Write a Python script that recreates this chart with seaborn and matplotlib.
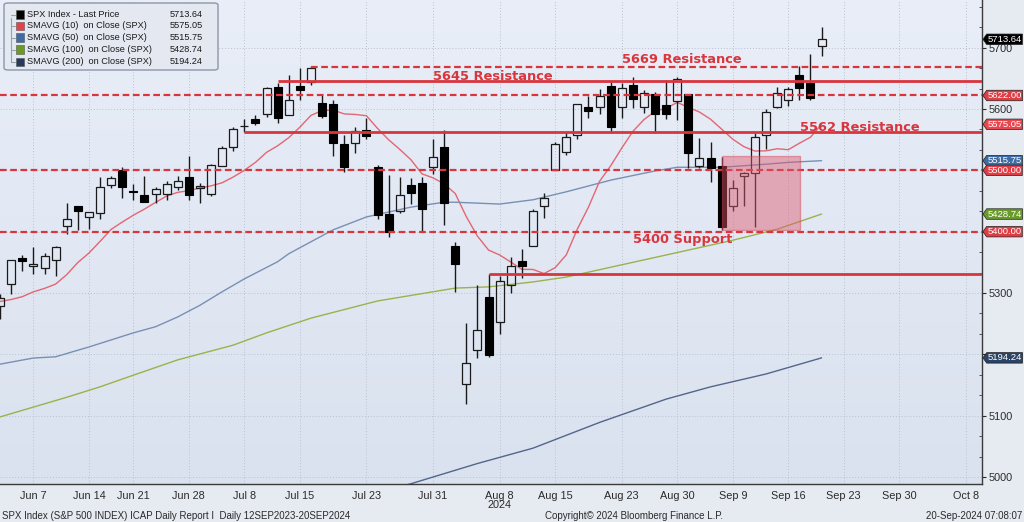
import numpy as np
import pandas as pd
import matplotlib
matplotlib.use("Agg")
import matplotlib.pyplot as plt
import matplotlib.transforms as mtransforms
from matplotlib.colors import LinearSegmentedColormap
from matplotlib.patches import Rectangle, FancyBboxPatch
from matplotlib.path import Path
from matplotlib.ticker import FixedLocator, MultipleLocator
import seaborn as sns

# SPX daily candles
dates = ["2024-06-03", "2024-06-04", "2024-06-05", "2024-06-06", "2024-06-07",
         "2024-06-10", "2024-06-11", "2024-06-12", "2024-06-13", "2024-06-14",
         "2024-06-17", "2024-06-18", "2024-06-20", "2024-06-21", "2024-06-24",
         "2024-06-25", "2024-06-26", "2024-06-27", "2024-06-28", "2024-07-01",
         "2024-07-02", "2024-07-03", "2024-07-05", "2024-07-08", "2024-07-09",
         "2024-07-10", "2024-07-11", "2024-07-12", "2024-07-15", "2024-07-16",
         "2024-07-17", "2024-07-18", "2024-07-19", "2024-07-22", "2024-07-23",
         "2024-07-24", "2024-07-25", "2024-07-26", "2024-07-29", "2024-07-30",
         "2024-07-31", "2024-08-01", "2024-08-02", "2024-08-05", "2024-08-06",
         "2024-08-07", "2024-08-08", "2024-08-09", "2024-08-12", "2024-08-13",
         "2024-08-14", "2024-08-15", "2024-08-16", "2024-08-19", "2024-08-20",
         "2024-08-21", "2024-08-22", "2024-08-23", "2024-08-26", "2024-08-27",
         "2024-08-28", "2024-08-29", "2024-08-30", "2024-09-03", "2024-09-04",
         "2024-09-05", "2024-09-06", "2024-09-09", "2024-09-10", "2024-09-11",
         "2024-09-12", "2024-09-13", "2024-09-16", "2024-09-17", "2024-09-18",
         "2024-09-19"]
opens = [5297.15, 5278.24, 5314.48, 5357.80, 5343.81, 5341.22, 5353.00, 5409.13, 5441.93, 5424.08,
         5431.11, 5476.15, 5499.99, 5466.77, 5459.58, 5460.73, 5460.71, 5473.59, 5488.48, 5471.08,
         5461.84, 5507.44, 5537.91, 5572.75, 5584.24, 5591.26, 5635.21, 5590.76, 5638.16, 5644.09,
         5610.07, 5608.56, 5543.37, 5544.75, 5565.30, 5505.84, 5428.70, 5433.67, 5476.55, 5478.73,
         5505.59, 5537.84, 5376.63, 5151.14, 5206.42, 5293.13, 5252.57, 5312.70, 5351.88, 5376.98,
         5442.37, 5501.13, 5530.50, 5557.23, 5602.88, 5603.09, 5637.77, 5602.89, 5639.66, 5602.89,
         5624.51, 5607.30, 5612.74, 5623.89, 5506.68, 5520.08, 5507.33, 5442.07, 5490.51, 5496.42,
         5557.48, 5603.34, 5615.21, 5655.51, 5641.68, 5702.63]
highs = [5302.11, 5298.80, 5354.16, 5362.35, 5375.08, 5365.79, 5375.95, 5447.25, 5441.93, 5432.39,
         5488.50, 5490.38, 5505.53, 5478.31, 5490.66, 5472.88, 5483.14, 5490.81, 5523.64, 5479.55,
         5509.69, 5539.27, 5570.33, 5583.11, 5590.75, 5635.39, 5642.45, 5655.56, 5666.94, 5669.67,
         5622.49, 5614.05, 5557.50, 5570.36, 5585.34, 5508.04, 5491.59, 5488.32, 5487.74, 5489.46,
         5551.51, 5566.16, 5383.89, 5250.89, 5312.34, 5330.64, 5328.03, 5358.73, 5371.20, 5436.50,
         5463.22, 5546.23, 5561.98, 5608.30, 5620.51, 5632.68, 5643.22, 5641.82, 5651.62, 5631.18,
         5627.03, 5646.95, 5651.37, 5623.89, 5552.99, 5546.30, 5522.47, 5484.20, 5497.91, 5560.41,
         5600.71, 5636.27, 5636.05, 5670.81, 5689.75, 5733.57]
lows = [5234.32, 5257.63, 5297.64, 5335.36, 5331.33, 5331.52, 5327.25, 5395.72, 5402.51, 5403.75,
        5420.40, 5471.32, 5455.56, 5452.03, 5447.59, 5446.56, 5451.87, 5467.54, 5451.12, 5446.53,
        5458.43, 5507.42, 5531.63, 5562.51, 5574.57, 5586.44, 5576.53, 5590.44, 5614.75, 5639.02,
        5584.81, 5522.81, 5497.04, 5529.04, 5550.90, 5419.98, 5390.95, 5430.70, 5444.44, 5401.46,
        5493.75, 5410.42, 5302.03, 5119.26, 5193.56, 5195.54, 5233.85, 5300.76, 5324.37, 5376.98,
        5421.96, 5501.13, 5525.17, 5550.74, 5585.50, 5591.57, 5560.95, 5585.16, 5602.34, 5593.48,
        5560.95, 5583.71, 5581.79, 5504.43, 5503.66, 5480.26, 5402.62, 5434.49, 5441.72, 5406.96,
        5535.50, 5601.65, 5604.53, 5614.05, 5615.08, 5686.42]
closes = [5283.40, 5291.34, 5354.03, 5352.96, 5346.99, 5360.79, 5375.32, 5421.03, 5433.74, 5431.60,
          5473.23, 5487.03, 5473.17, 5464.62, 5447.87, 5469.30, 5477.90, 5482.87, 5460.48, 5475.09,
          5509.01, 5537.02, 5567.19, 5572.85, 5576.98, 5633.91, 5584.54, 5615.35, 5631.22, 5667.20,
          5588.27, 5544.59, 5505.00, 5564.41, 5555.74, 5427.13, 5399.22, 5459.10, 5463.54, 5436.44,
          5522.30, 5446.68, 5346.56, 5186.33, 5240.03, 5199.50, 5319.31, 5344.16, 5344.39, 5434.43,
          5455.21, 5543.22, 5554.25, 5608.25, 5597.12, 5620.85, 5570.64, 5634.61, 5616.84, 5625.80,
          5592.18, 5591.96, 5648.40, 5528.93, 5520.07, 5503.41, 5408.42, 5471.05, 5495.52, 5554.13,
          5595.76, 5626.02, 5633.09, 5634.58, 5618.26, 5713.64]

# moving averages
sma10 = [5287.8, 5286.2, 5289.4, 5294.0, 5301.9, 5307.5, 5314.5, 5329.9, 5349.7, 5365.1,
         5384.1, 5403.7, 5415.6, 5426.8, 5436.8, 5447.7, 5458.0, 5464.1, 5466.8, 5471.2,
         5474.7, 5479.7, 5489.1, 5500.0, 5512.9, 5529.3, 5540.0, 5553.2, 5570.3, 5589.5,
         5597.5, 5598.2, 5592.0, 5591.1, 5589.0, 5568.3, 5549.8, 5534.2, 5517.4, 5494.3,
         5487.7, 5478.0, 5462.1, 5424.3, 5392.7, 5370.0, 5362.0, 5350.5, 5338.6, 5338.4,
         5331.7, 5341.3, 5362.1, 5404.3, 5440.0, 5482.1, 5507.3, 5536.3, 5563.5, 5582.7,
         5596.4, 5601.3, 5610.7, 5602.7, 5595.0, 5583.3, 5567.1, 5550.7, 5538.6, 5531.4,
         5531.8, 5535.2, 5533.6, 5544.2, 5554.0, 5575.05]
sma50_dates = ["2024-06-03", "2024-06-04", "2024-06-07", "2024-06-11", "2024-06-14", "2024-06-21",
               "2024-06-25", "2024-06-27", "2024-07-01", "2024-07-03", "2024-07-08", "2024-07-11",
               "2024-07-12", "2024-07-18", "2024-07-23", "2024-07-29", "2024-08-01", "2024-08-02",
               "2024-08-08", "2024-08-13", "2024-08-16", "2024-08-22", "2024-08-28", "2024-08-30",
               "2024-09-06", "2024-09-12", "2024-09-16", "2024-09-19"]
sma50 = [5182, 5184, 5194, 5196, 5212, 5235, 5245, 5261, 5280, 5302, 5323, 5351,
         5364, 5403, 5424, 5440, 5448, 5448, 5445, 5452, 5465, 5484, 5499, 5505,
         5505, 5510, 5513, 5515.75]
sma100_dates = ["2024-06-03", "2024-06-04", "2024-06-07", "2024-06-12", "2024-06-17", "2024-06-21",
                "2024-06-27", "2024-07-05", "2024-07-10", "2024-07-16", "2024-07-19", "2024-07-24",
                "2024-08-02", "2024-08-07", "2024-08-13", "2024-08-16", "2024-08-22", "2024-08-29",
                "2024-09-09", "2024-09-13", "2024-09-19"]
sma100 = [5093, 5098, 5114, 5130, 5147, 5166, 5191, 5215, 5235, 5259, 5273, 5287,
          5308, 5310, 5318, 5326, 5342, 5362, 5386, 5404, 5428.74]
sma200_dates = ["2024-07-23", "2024-07-29", "2024-08-06", "2024-08-13", "2024-08-21",
                "2024-08-29", "2024-09-05", "2024-09-12", "2024-09-19"]
sma200 = [4970, 4989, 5022, 5047, 5089, 5127, 5147, 5168, 5194.24]

# drawn levels
dashed_levels = [5669, 5622, 5500, 5400]
dashed_from = ["2024-07-16", None, None, None]
solid_levels = [5645, 5562, 5331]
solid_from = ["2024-07-11", "2024-07-08", "2024-08-07"]
level_texts = ["5669 Resistance", "5645 Resistance", "5562 Resistance", "5400 Support"]
level_text_x = [57.0, 40.0, 73.1, 58.0]
level_text_y = [5675, 5647, 5564, 5381]
box_from, box_to = "2024-09-06", 73.1
box_low, box_high = 5403, 5523

tick_dates = ["2024-06-07", "2024-06-14", "2024-06-21", "2024-06-28", "2024-07-08", "2024-07-15",
              "2024-07-23", "2024-07-31", "2024-08-08", "2024-08-15", "2024-08-23", "2024-08-30",
              "2024-09-09", "2024-09-16", "2024-09-23", "2024-09-30", "2024-10-08"]
tick_labels = ["Jun 7", "Jun 14", "Jun 21", "Jun 28", "Jul 8", "Jul 15", "Jul 23", "Jul 31",
               "Aug 8", "Aug 15", "Aug 23", "Aug 30", "Sep 9", "Sep 16", "Sep 23", "Sep 30", "Oct 8"]

# trading-day calendar -> x positions
cal = pd.bdate_range("2024-06-03", "2024-10-15")
cal = cal.drop(pd.to_datetime(["2024-06-19", "2024-07-04", "2024-09-02", "2024-10-14"]))
pos = {d: i for i, d in enumerate(cal)}
def xi(d):
    return pos[pd.Timestamp(d)]

x = np.array([xi(d) for d in dates])
o, h, l, c = map(np.array, (opens, highs, lows, closes))

sns.set_style("white")
plt.rcParams["font.family"] = ["Liberation Sans", "DejaVu Sans"]

W, H = 1024, 522
fig = plt.figure(figsize=(W / 100, H / 100), dpi=100, facecolor="#e6ebf2")
ax = fig.add_axes([0, 1 - 484 / H, 982 / W, 484 / H])
XMIN, XMAX = 0.99, 89.45
YMIN, YMAX = 4988.6, 5777.7

grad = LinearSegmentedColormap.from_list("bg", ["#dae2ef", "#e9eef8"])
ax.imshow(np.linspace(0, 1, 256).reshape(-1, 1), extent=[XMIN, XMAX, YMIN, YMAX],
          origin="lower", aspect="auto", cmap=grad, zorder=0)

# moving averages
sns.lineplot(x=x, y=sma10, ax=ax, color="#e2505b", lw=1.0, alpha=0.85, zorder=2)
sns.lineplot(x=[xi(d) for d in sma50_dates], y=sma50, ax=ax, color="#7890b4", lw=1.0, zorder=2)
sns.lineplot(x=[xi(d) for d in sma100_dates], y=sma100, ax=ax, color="#9bb24c", lw=1.0, zorder=2)
sns.lineplot(x=[xi(d) for d in sma200_dates], y=sma200, ax=ax, color="#52668a", lw=1.0, zorder=2)

# candles
up = c >= o
top, bot = np.maximum(o, c), np.minimum(o, c)
ax.vlines(x, top, h, color="#1a1a1a", lw=1.0, zorder=3)
ax.vlines(x, l, bot, color="#1a1a1a", lw=1.0, zorder=3)
ax.bar(x[~up], (o - c)[~up], bottom=c[~up], width=0.72, color="black", edgecolor="black", lw=0.8, zorder=3)
ax.bar(x[up], np.maximum((c - o)[up], 0.3), bottom=o[up], width=0.72, facecolor="none",
       edgecolor="#1a1a1a", lw=0.9, zorder=3)

# levels
red = "#d8353d"
for lv, start in zip(dashed_levels, dashed_from):
    x0 = XMIN if start is None else xi(start)
    ax.hlines(lv, x0, XMAX, color=red, lw=1.6, linestyles=(0, (3, 1.6)), zorder=4)
for lv, start in zip(solid_levels, solid_from):
    ax.hlines(lv, xi(start), XMAX, color=red, lw=2.0, zorder=4)
for t, tx, ty in zip(level_texts, level_text_x, level_text_y):
    ax.text(tx, ty, t, color=red, fontsize=9.4, fontweight="bold", family=["DejaVu Sans"],
            va="baseline", ha="left", zorder=6)
ax.add_patch(Rectangle((xi(box_from), box_low), box_to - xi(box_from), box_high - box_low,
                       facecolor="#e0566a", edgecolor="#d8404f", alpha=0.45, lw=1, zorder=5))

ax.set_xlim(XMIN, XMAX)
ax.set_ylim(YMIN, YMAX)

# axes styling
for s in ["left", "top"]:
    ax.spines[s].set_visible(False)
for s in ["bottom", "right"]:
    ax.spines[s].set_color("#3a3a3a")
    ax.spines[s].set_linewidth(1.0)
ax.xaxis.set_major_locator(FixedLocator([xi(d) for d in tick_dates]))
ax.set_xticklabels(tick_labels)
ax.xaxis.set_minor_locator(MultipleLocator(1))
ax.yaxis.tick_right()
yt = [5000, 5100, 5200, 5300, 5400, 5500, 5600, 5700]
ax.set_yticks(yt)
ax.set_yticklabels(["5000", "5100", "", "5300", "", "", "5600", "5700"])
ax.yaxis.set_minor_locator(MultipleLocator(100 / 3))
ax.tick_params(axis="both", which="major", labelsize=7.8, colors="#2a2a2a", length=3, width=0.8, pad=2)
ax.tick_params(axis="both", which="minor", length=2, width=0.6, color="#3a3a3a")
ax.tick_params(axis="y", which="minor", direction="in")
ax.grid(True, which="major", color="#b8c2d2", lw=0.7, linestyle=(0, (1, 2)), zorder=1)
ax.set_xlabel("")
ax.set_ylabel("")
ax.text(xi("2024-08-08"), -0.043, "2024", transform=mtransforms.blended_transform_factory(ax.transData, ax.transAxes),
        ha="center", va="center", fontsize=7.8, color="#2a2a2a")

# value tags on the right axis
def tag_box(x0, y0, width, height, mutation_size):
    pad = mutation_size * 0.08
    x0, y0 = x0 - pad, y0 - pad
    x1, y1 = x0 + width + 2 * pad, y0 + height + 2 * pad
    tip = (y1 - y0) * 0.35
    return Path([(x0, y0), (x1, y0), (x1, y1), (x0, y1), (x0 - tip, (y0 + y1) / 2), (x0, y0)], closed=True)

tag_vals = [closes[-1], sma10[-1], 5622.00, sma50[-1], 5500.00, sma100[-1], 5400.00, sma200[-1]]
tag_cols = ["#000000", "#e8474f", "#e03c44", "#3f6ca3", "#e03c44", "#6a9a2b", "#e03c44", "#2b4466"]
tag_tr = mtransforms.blended_transform_factory(ax.transAxes, ax.transData)
for v, col in zip(tag_vals, tag_cols):
    ax.annotate(f"{v:.2f}", xy=(1, v), xycoords=tag_tr, xytext=(3.9, 0), textcoords="offset points",
                ha="left", va="center", fontsize=6.8, color="white", annotation_clip=False,
                zorder=12 if v == 5500.0 else 10,
                bbox=dict(boxstyle=tag_box, fc=col, ec="#202020", lw=0.5))

# legend box
def fp(px, py):
    return px / W, 1 - py / H
leg_names = ["SPX Index - Last Price", "SMAVG (10)  on Close (SPX)", "SMAVG (50)  on Close (SPX)",
             "SMAVG (100)  on Close (SPX)", "SMAVG (200)  on Close (SPX)"]
leg_vals = [closes[-1], sma10[-1], sma50[-1], sma100[-1], sma200[-1]]
leg_cols = ["#000000", "#e8414b", "#3d6da6", "#6a9b25", "#243a5e"]
bx, by = fp(4, 70)
fig.add_artist(FancyBboxPatch((bx, by), 214 / W, 67 / H, boxstyle="round,pad=0,rounding_size=0.004",
                              transform=fig.transFigure, fc="#e4e9f1", ec="#8d96a8", lw=1))
rows = [14.5, 26, 37.5, 49.5, 61.5]
fig.add_artist(plt.Line2D([11 / W, 11 / W], [fp(0, 18)[1], fp(0, 61.5)[1]], transform=fig.transFigure,
                          color="#9aa2b2", lw=0.8))
for ry, name, val, col in zip(rows, leg_names, leg_vals, leg_cols):
    sx, sy = fp(15.5, ry + 4)
    fig.add_artist(Rectangle((sx, sy), 8 / W, 8 / H, transform=fig.transFigure, fc=col, ec="#555", lw=0.4))
    fig.add_artist(plt.Line2D([11 / W, 15 / W], [fp(0, ry)[1]] * 2, transform=fig.transFigure, color="#9aa2b2", lw=0.8))
    tx, ty = fp(27, ry)
    fig.text(tx, ty, name, fontsize=6.6, color="#1a1a1a", va="center", ha="left")
    vx, _ = fp(203, ry)
    fig.text(vx, ty, f"{val:.2f}", fontsize=6.6, color="#1a1a1a", va="center", ha="right")

# footer
fig.text(2 / W, 1 - 516 / H, "SPX Index (S&P 500 INDEX) ICAP Daily Report I  Daily 12SEP2023-20SEP2024",
         fontsize=7, color="#2a2a2a", va="center", ha="left")
fig.text(545 / W, 1 - 516 / H, "Copyright\u00a9 2024 Bloomberg Finance L.P.", fontsize=7, color="#2a2a2a",
         va="center", ha="left")
fig.text(1022 / W, 1 - 516 / H, "20-Sep-2024 07:08:07", fontsize=7, color="#2a2a2a", va="center", ha="right")

fig.savefig("out.png", dpi=100, facecolor=fig.get_facecolor())
